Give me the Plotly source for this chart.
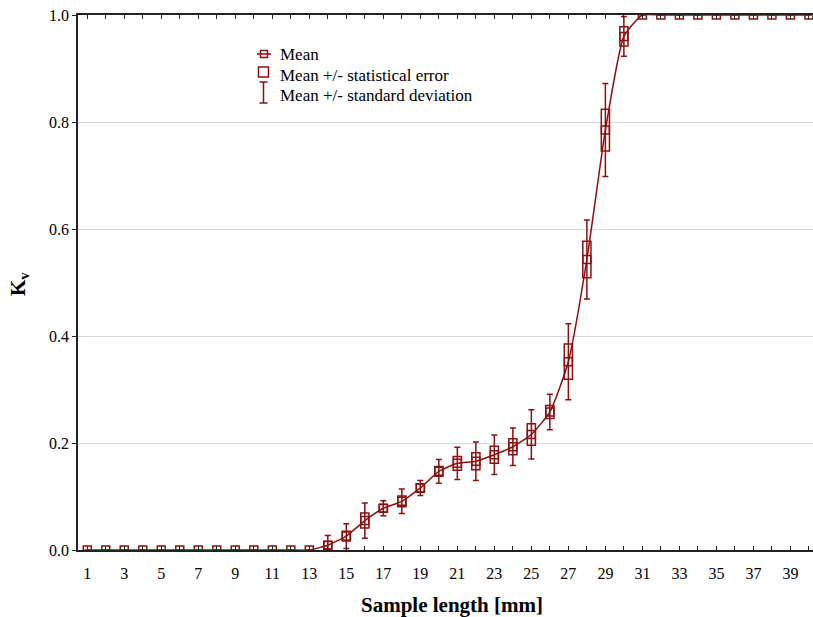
import plotly.graph_objects as go

# ---- data ----
sample_length = list(range(1, 41))
mean_kv = [0.0] * 13 + [0.009, 0.026, 0.055, 0.078, 0.091, 0.116, 0.147, 0.162,
                        0.166, 0.178, 0.193, 0.216, 0.258, 0.352, 0.543, 0.785,
                        0.960] + [1.0] * 10
stat_err = [0.0] * 13 + [0.007, 0.009, 0.014, 0.007, 0.010, 0.008, 0.009, 0.013,
                         0.016, 0.016, 0.015, 0.020, 0.012, 0.033, 0.034, 0.039,
                         0.018] + [0.0] * 10
std_dev = [0.0] * 13 + [0.018, 0.023, 0.033, 0.014, 0.023, 0.014, 0.022, 0.030,
                        0.036, 0.037, 0.035, 0.046, 0.033, 0.071, 0.074, 0.087,
                        0.037] + [0.0] * 10
x_tick_vals = list(range(1, 41))
x_tick_text = [str(v) if v % 2 == 1 else "" for v in x_tick_vals]
y_tick_vals = [0.0, 0.2, 0.4, 0.6, 0.8, 1.0]
y_tick_text = ["0.0", "0.2", "0.4", "0.6", "0.8", "1.0"]

legend_labels = ["Mean", "Mean +/- statistical error", "Mean +/- standard deviation"]
x_title = "<b>Sample length [mm]</b>"
y_title = "<b>K<sub>v</sub></b>"

RED = "#8b1010"
FONT = "Liberation Serif"

W, H = 813, 617
L, R, T, B = 78, 0, 15, 67

fig = go.Figure()

# statistical-error boxes
bx = [x for x, s in zip(sample_length, stat_err) if s > 0]
bbase = [m - s for m, s in zip(mean_kv, stat_err) if s > 0]
bh = [2 * s for s in stat_err if s > 0]
fig.add_trace(go.Bar(
    x=bx, y=bh, base=bbase, width=0.44,
    marker=dict(color="rgba(0,0,0,0)", line=dict(color=RED, width=1.5)),
    showlegend=False, hoverinfo="skip"))

# standard deviation whiskers
fig.add_trace(go.Scatter(
    x=sample_length, y=mean_kv, mode="markers",
    marker=dict(size=1, color="rgba(0,0,0,0)"),
    error_y=dict(type="data", array=std_dev, visible=True, color=RED,
                 thickness=1.5, width=3),
    showlegend=False, hoverinfo="skip"))

# mean line + markers
fig.add_trace(go.Scatter(
    x=sample_length, y=mean_kv, mode="lines+markers",
    line=dict(color=RED, width=1.5, shape="spline", smoothing=0.5),
    marker=dict(symbol="square-open", size=8, color=RED, line=dict(width=1.5)),
    showlegend=False))

# ---- manual legend ----
def px(xp):
    return (xp - L) / (W - L - R)

def py(yp):
    return (H - B - yp) / (H - T - B)

shapes = []
line_style = dict(color=RED, width=1.5)
# Mean
shapes.append(dict(type="line", xref="paper", yref="paper",
                   x0=px(257), x1=px(271), y0=py(54), y1=py(54), line=line_style))
shapes.append(dict(type="rect", xref="paper", yref="paper",
                   x0=px(260.5), x1=px(267.5), y0=py(50.5), y1=py(57.5), line=line_style))
# statistical error
shapes.append(dict(type="rect", xref="paper", yref="paper",
                   x0=px(258.5), x1=px(268.5), y0=py(67), y1=py(77), line=line_style))
# standard deviation
shapes.append(dict(type="line", xref="paper", yref="paper",
                   x0=px(263.5), x1=px(263.5), y0=py(82), y1=py(103), line=line_style))
shapes.append(dict(type="line", xref="paper", yref="paper",
                   x0=px(259.5), x1=px(267.5), y0=py(82), y1=py(82), line=line_style))
shapes.append(dict(type="line", xref="paper", yref="paper",
                   x0=px(259.5), x1=px(267.5), y0=py(103), y1=py(103), line=line_style))

annotations = []
for lab, yp in zip(legend_labels, [54.5, 75, 95.5]):
    annotations.append(dict(text=lab, xref="paper", yref="paper", x=px(278), y=py(yp),
                            xanchor="left", yanchor="middle", showarrow=False,
                            font=dict(family=FONT, size=17, color="black")))
# axis titles
annotations.append(dict(text=x_title, xref="paper", yref="paper", x=px(452), y=py(605),
                        xanchor="center", yanchor="middle", showarrow=False,
                        font=dict(family=FONT, size=21, color="black")))
annotations.append(dict(text=y_title, xref="paper", yref="paper", x=px(19), y=py(284),
                        xanchor="center", yanchor="middle", showarrow=False, textangle=-90,
                        font=dict(family=FONT, size=21, color="black")))

fig.update_layout(
    width=W, height=H,
    margin=dict(l=L, r=R, t=T, b=B),
    paper_bgcolor="white", plot_bgcolor="white",
    font=dict(family=FONT, size=16, color="black"),
    shapes=shapes, annotations=annotations,
    barmode="overlay",
    xaxis=dict(
        range=[0.5, 40.22], tickmode="array", tickvals=x_tick_vals, ticktext=x_tick_text,
        ticks="inside", ticklen=4, tickwidth=1, tickcolor="#222",
        showline=True, linecolor="#222", linewidth=1.5, mirror="ticks",
        showgrid=False, zeroline=False, ticklabelstandoff=8, automargin=False,
        tickfont=dict(family=FONT, size=16)),
    yaxis=dict(
        range=[0, 1.0], tickmode="array", tickvals=y_tick_vals, ticktext=y_tick_text,
        ticks="outside", ticklen=4, tickwidth=1, tickcolor="#222",
        showline=True, linecolor="#222", linewidth=1.5, mirror=False,
        showgrid=True, gridcolor="#d9d9d9", gridwidth=1, zeroline=False, automargin=False,
        tickfont=dict(family=FONT, size=16)),
)

fig.write_html("out.html", config={"displayModeBar": False},
               post_script="document.body.style.margin='0';document.body.style.overflow='hidden';")
